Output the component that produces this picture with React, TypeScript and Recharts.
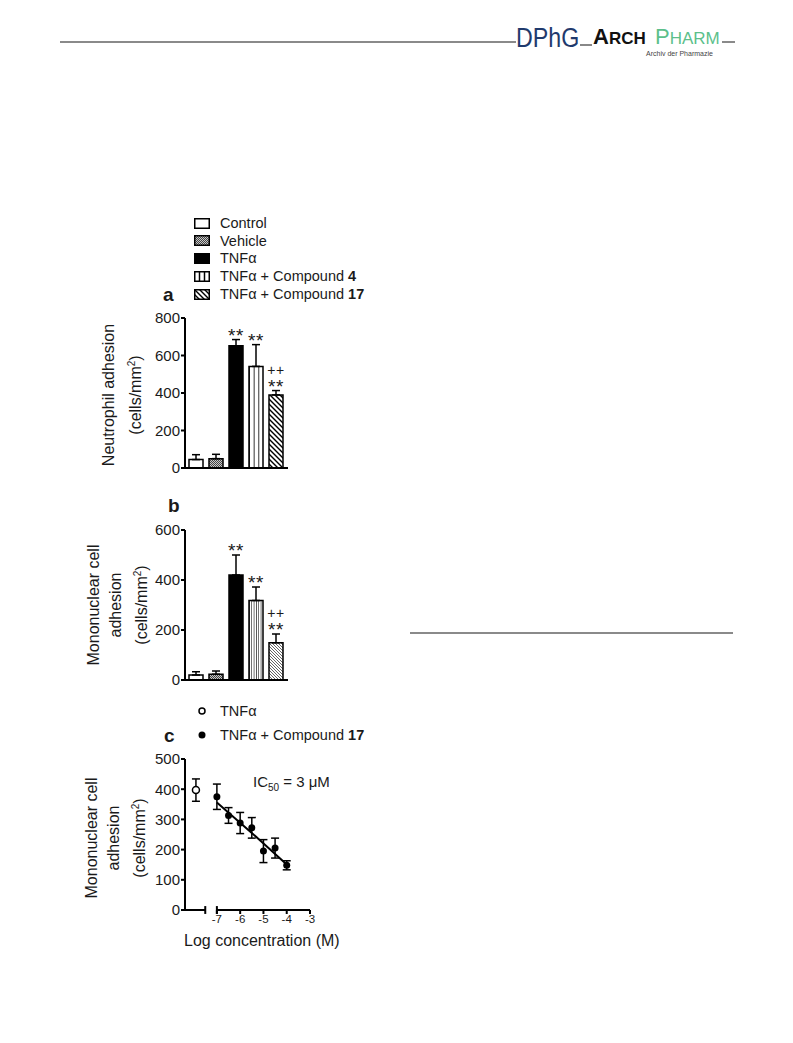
import React from 'react'
import {
  BarChart,
  Bar,
  XAxis,
  YAxis,
  Cell,
  ErrorBar,
  LabelList,
  ScatterChart,
  Scatter,
  ReferenceLine,
} from 'recharts'

// panel a / b groups
const groups = ['Control', 'Vehicle', 'TNFα', 'TNFα + Compound 4', 'TNFα + Compound 17']
const neutrophilMean = [45, 50, 652, 542, 390]
const neutrophilSem = [26, 23, 33, 116, 23]
const mononuclearMean = [20, 23, 420, 318, 149]
const mononuclearSem = [13, 13, 80, 54, 35]
const stars = ['', '', '**', '**', '**']
const plusMarks = ['', '', '', '', '++']

// panel c
const tnfPos = [-7.9]
const tnfMean = [397]
const tnfSem = [37]
const logConc = [-7, -6.5, -6, -5.5, -5, -4.5, -4]
const doseMean = [375, 313, 288, 272, 195, 205, 148]
const doseSem = [42, 26, 35, 34, 38, 33, 15]
const fitConc = [-7, -5.5, -4]
const fitValue = [356, 255, 151]

const ticksA = [0, 200, 400, 600, 800]
const ticksB = [0, 200, 400, 600]
const ticksC = [0, 100, 200, 300, 400, 500]
const ticksCx = [-7, -6, -5, -4, -3]

const FONT = '"Liberation Sans", Arial, sans-serif'
const INK = '#1a1a1a'

const neutroData = groups.map((g, i) => ({
  group: g,
  mean: neutrophilMean[i],
  err: [0, neutrophilSem[i]],
}))
const monoData = groups.map((g, i) => ({
  group: g,
  mean: mononuclearMean[i],
  err: [0, mononuclearSem[i]],
}))
const tnfData = tnfPos.map((x, i) => ({ x, y: tnfMean[i], err: tnfSem[i] }))
const doseData = logConc.map((x, i) => ({ x, y: doseMean[i], err: doseSem[i] }))
const fitData = fitConc.map((x, i) => ({ x, y: fitValue[i] }))

// stars (and ++) sit just above the error bar cap
function sigLabel(means: number[], sems: number[]) {
  return (props: any) => {
    const i = props.index
    if (i == null || !stars[i]) return null
    const vb = props.viewBox ?? props
    const top = Math.min(vb.y, vb.y + vb.height)
    const h = Math.abs(vb.height)
    const errTop = top - (sems[i] * h) / means[i]
    const cx = vb.x + vb.width / 2
    if (plusMarks[i]) {
      return (
        <text x={cx} y={errTop - 16} textAnchor="middle" fill={INK} letterSpacing={0.5}>
          <tspan x={cx} fontSize={14}>
            {plusMarks[i]}
          </tspan>
          <tspan x={cx} dy={18} fontSize={19}>
            {stars[i]}
          </tspan>
        </text>
      )
    }
    return (
      <text x={cx} y={errTop + 2} textAnchor="middle" fontSize={19} fill={INK} letterSpacing={0.5}>
        {stars[i]}
      </text>
    )
  }
}

function Patterns({ id, dense }: { id: string; dense?: boolean }) {
  return (
    <defs>
      <pattern id={`${id}-dots`} width={2} height={2} patternUnits="userSpaceOnUse">
        <rect width={2} height={2} fill="#c8c8c8" />
        <rect width={1} height={1} fill="#444" />
        <rect x={1} y={1} width={1} height={1} fill="#444" />
      </pattern>
      <pattern
        id={`${id}-vert`}
        width={dense ? 1 / 6 : 1 / 3}
        height={1}
        patternUnits="objectBoundingBox"
      >
        <rect width={20} height={400} fill="#fff" />
        <line x1={0} y1={0} x2={0} y2={400} stroke="#000" strokeWidth={dense ? 1.2 : 1.6} />
      </pattern>
      <pattern
        id={`${id}-diag`}
        width={dense ? 3 : 5}
        height={dense ? 3 : 5}
        patternUnits="userSpaceOnUse"
      >
        <rect width={6} height={6} fill="#fff" />
        <path
          d={dense ? 'M-1,-1 L4,4 M-1,2 L1,4 M2,-1 L4,1' : 'M-1,-1 L6,6 M-1,4 L1,6 M4,-1 L6,1'}
          stroke={dense ? '#555' : '#000'}
          strokeWidth={dense ? 0.9 : 1.4}
        />
      </pattern>
    </defs>
  )
}

function barFill(id: string, i: number) {
  return ['#fff', `url(#${id}-dots)`, '#000', `url(#${id}-vert)`, `url(#${id}-diag)`][i]
}

function Swatch({ kind }: { kind: number }) {
  return (
    <svg width={16} height={11} style={{ display: 'block' }}>
      <Patterns id={`sw${kind}`} />
      <rect
        x={0.75}
        y={0.75}
        width={14.5}
        height={9.5}
        fill={kind === 3 ? '#fff' : barFill(`sw${kind}`, kind)}
        stroke="#000"
        strokeWidth={1.5}
      />
      {kind === 3 && (
        <>
          <line x1={5.5} y1={0} x2={5.5} y2={11} stroke="#000" strokeWidth={1.5} />
          <line x1={10.5} y1={0} x2={10.5} y2={11} stroke="#000" strokeWidth={1.5} />
        </>
      )}
    </svg>
  )
}

function T({ x, y, size = 15, bold, children, color = INK }: any) {
  return (
    <div
      style={{
        position: 'absolute',
        left: x,
        top: y,
        transform: 'translateY(-50%)',
        fontSize: size,
        lineHeight: 1,
        fontWeight: bold ? 'bold' : 'normal',
        whiteSpace: 'nowrap',
        color,
      }}
    >
      {children}
    </div>
  )
}

function RotLabel({ cx, cy, gap, lines }: { cx: number; cy: number; gap: number; lines: React.ReactNode[] }) {
  return (
    <div
      style={{
        position: 'absolute',
        left: cx,
        top: cy,
        transform: 'translate(-50%, -50%) rotate(-90deg)',
        textAlign: 'center',
        fontSize: 16,
        lineHeight: `${gap}px`,
        whiteSpace: 'nowrap',
        color: INK,
      }}
    >
      {lines.map((l, i) => (
        <div key={i}>{l}</div>
      ))}
    </div>
  )
}

const cellsUnit = (
  <span>
    (cells/mm<sup style={{ fontSize: 10 }}>2</sup>)
  </span>
)

function AdhesionBars({ id, data, ticks, max, means, sems, dense }: any) {
  return (
    <BarChart
      width={240}
      height={180}
      data={data}
      margin={{ top: 18, right: 12, bottom: 10, left: 0 }}
      barSize={14}
    >
      <Patterns id={id} dense={dense} />
      <XAxis
        dataKey="group"
        tick={false}
        tickLine={false}
        height={2}
        padding={{ left: 1, right: 2 }}
        axisLine={{ stroke: '#000', strokeWidth: 2 }}
      />
      <YAxis
        width={125}
        domain={[0, max]}
        ticks={ticks}
        tickSize={4}
        tickMargin={1}
        axisLine={{ stroke: '#000', strokeWidth: 2 }}
        tickLine={{ stroke: '#000', strokeWidth: 2 }}
        tick={{ fontSize: 15, fill: INK }}
      />
      <Bar dataKey="mean" stroke="#000" strokeWidth={1.5} isAnimationActive={false}>
        {data.map((_: any, i: number) => (
          <Cell key={i} fill={barFill(id, i)} />
        ))}
        <ErrorBar dataKey="err" width={4} stroke="#000" strokeWidth={1.5} direction="y" />
        <LabelList content={sigLabel(means, sems)} />
      </Bar>
    </BarChart>
  )
}

export default function App() {
  const legendRows = [
    { y: 223, label: 'Control' },
    { y: 240.5, label: 'Vehicle' },
    { y: 258, label: 'TNFα' },
    { y: 276, label: <>TNFα + Compound <b>4</b></> },
    { y: 294, label: <>TNFα + Compound <b>17</b></> },
  ]
  return (
    <div
      style={{
        position: 'absolute',
        left: 0,
        top: 0,
        width: 793,
        height: 1043,
        background: '#fff',
        fontFamily: FONT,
        overflow: 'hidden',
      }}
    >
      {/* journal header */}
      <div style={{ position: 'absolute', left: 60, top: 41, width: 456, height: 2, background: '#8a8a8a' }} />
      <div
        style={{
          position: 'absolute',
          left: 516,
          top: 25,
          fontSize: 27,
          lineHeight: 1,
          color: '#1f3a6d',
          transform: 'scaleX(0.86)',
          transformOrigin: 'left',
        }}
      >
        DPhG
      </div>
      <div style={{ position: 'absolute', left: 580, top: 44, width: 12, height: 1.5, background: '#888' }} />
      <div
        style={{
          position: 'absolute',
          left: 593,
          top: 26,
          lineHeight: 1,
          color: '#111',
          fontWeight: 'bold',
          whiteSpace: 'nowrap',
        }}
      >
        <span style={{ fontSize: 22 }}>A</span>
        <span style={{ fontSize: 17 }}>RCH</span>
      </div>
      <div
        style={{
          position: 'absolute',
          left: 655,
          top: 26,
          lineHeight: 1,
          color: '#5cbf8b',
          whiteSpace: 'nowrap',
        }}
      >
        <span style={{ fontSize: 22 }}>P</span>
        <span style={{ fontSize: 17 }}>HARM</span>
      </div>
      <div style={{ position: 'absolute', left: 646, top: 50, fontSize: 7, lineHeight: 1, color: '#444', whiteSpace: 'nowrap' }}>
        Archiv der Pharmazie
      </div>
      <div style={{ position: 'absolute', left: 722, top: 41, width: 13, height: 2, background: '#8a8a8a' }} />
      <div style={{ position: 'absolute', left: 410, top: 631.5, width: 323, height: 2, background: '#8a8a8a' }} />

      {/* legend a/b */}
      {legendRows.map((r, i) => (
        <React.Fragment key={i}>
          <div style={{ position: 'absolute', left: 194, top: r.y - 5.5 }}>
            <Swatch kind={i} />
          </div>
          <T x={220} y={r.y} size={14.5}>
            {r.label}
          </T>
        </React.Fragment>
      ))}
      <T x={163} y={294} size={19} bold>
        a
      </T>

      {/* panel a */}
      <div style={{ position: 'absolute', left: 60, top: 300 }}>
        <AdhesionBars id="pa" data={neutroData} ticks={ticksA} max={800} means={neutrophilMean} sems={neutrophilSem} />
      </div>
      <RotLabel cx={122} cy={395} gap={23} lines={['Neutrophil adhesion', cellsUnit]} />

      {/* panel b */}
      <T x={168} y={505} size={19} bold>
        b
      </T>
      <div style={{ position: 'absolute', left: 60, top: 512 }}>
        <AdhesionBars
          id="pb"
          data={monoData}
          ticks={ticksB}
          max={600}
          means={mononuclearMean}
          sems={mononuclearSem}
          dense
        />
      </div>
      <RotLabel cx={118} cy={605} gap={22} lines={['Mononuclear cell', 'adhesion', cellsUnit]} />

      {/* panel c legend */}
      <svg style={{ position: 'absolute', left: 196, top: 704 }} width={12} height={40}>
        <circle cx={6} cy={7} r={3} fill="#fff" stroke="#000" strokeWidth={1.5} />
        <circle cx={6} cy={31} r={3.5} fill="#000" />
      </svg>
      <T x={220} y={711} size={14.5}>
        TNFα
      </T>
      <T x={220} y={735} size={14.5}>
        TNFα + Compound <b>17</b>
      </T>
      <T x={164} y={735} size={19} bold>
        c
      </T>

      {/* panel c */}
      <div style={{ position: 'absolute', left: 60, top: 740 }}>
        <ScatterChart width={260} height={200} margin={{ top: 19, right: 10, bottom: 0, left: 0 }}>
          <XAxis
            type="number"
            dataKey="x"
            domain={[-8.37, -3]}
            allowDataOverflow
            ticks={ticksCx}
            axisLine={false}
            tickSize={4}
            tickMargin={1}
            tickLine={{ stroke: '#000', strokeWidth: 2 }}
            tick={{ fontSize: 11.5, fill: INK }}
            height={30}
          />
          <YAxis
            type="number"
            dataKey="y"
            width={125}
            domain={[0, 500]}
            ticks={ticksC}
            tickSize={4}
            tickMargin={1}
            axisLine={{ stroke: '#000', strokeWidth: 2 }}
            tickLine={{ stroke: '#000', strokeWidth: 2 }}
            tick={{ fontSize: 15, fill: INK }}
          />
          <ReferenceLine
            segment={[{ x: -8.37, y: 0 }, { x: -7.5, y: 0 }]}
            stroke="#000"
            strokeWidth={2}
            ifOverflow="visible"
          />
          <ReferenceLine
            segment={[{ x: -7, y: 0 }, { x: -3, y: 0 }]}
            stroke="#000"
            strokeWidth={2}
            ifOverflow="visible"
          />
          <ReferenceLine
            segment={[{ x: -7.5, y: -13 }, { x: -7.5, y: 13 }]}
            stroke="#000"
            strokeWidth={2}
            ifOverflow="visible"
          />
          <ReferenceLine
            segment={[{ x: -7, y: -13 }, { x: -7, y: 13 }]}
            stroke="#000"
            strokeWidth={2}
            ifOverflow="visible"
          />
          <Scatter
            data={fitData}
            line={{ stroke: '#000', strokeWidth: 2 }}
            shape={() => <g />}
            isAnimationActive={false}
          />
          <Scatter
            data={doseData}
            isAnimationActive={false}
            shape={(p: any) => <circle cx={p.cx} cy={p.cy} r={3.5} fill="#000" />}
          >
            <ErrorBar dataKey="err" direction="y" width={4} stroke="#000" strokeWidth={1.5} />
          </Scatter>
          <Scatter
            data={tnfData}
            isAnimationActive={false}
            shape={(p: any) => <circle cx={p.cx} cy={p.cy} r={3.5} fill="#fff" stroke="#000" strokeWidth={1.5} />}
          >
            <ErrorBar dataKey="err" direction="y" width={4} stroke="#000" strokeWidth={1.5} />
          </Scatter>
        </ScatterChart>
      </div>
      <RotLabel cx={116} cy={838} gap={22} lines={['Mononuclear cell', 'adhesion', cellsUnit]} />
      <T x={253} y={783} size={15}>
        IC<sub style={{ fontSize: 10 }}>50</sub> = 3 μM
      </T>
      <T x={184} y={941} size={16}>
        Log concentration (M)
      </T>
    </div>
  )
}
